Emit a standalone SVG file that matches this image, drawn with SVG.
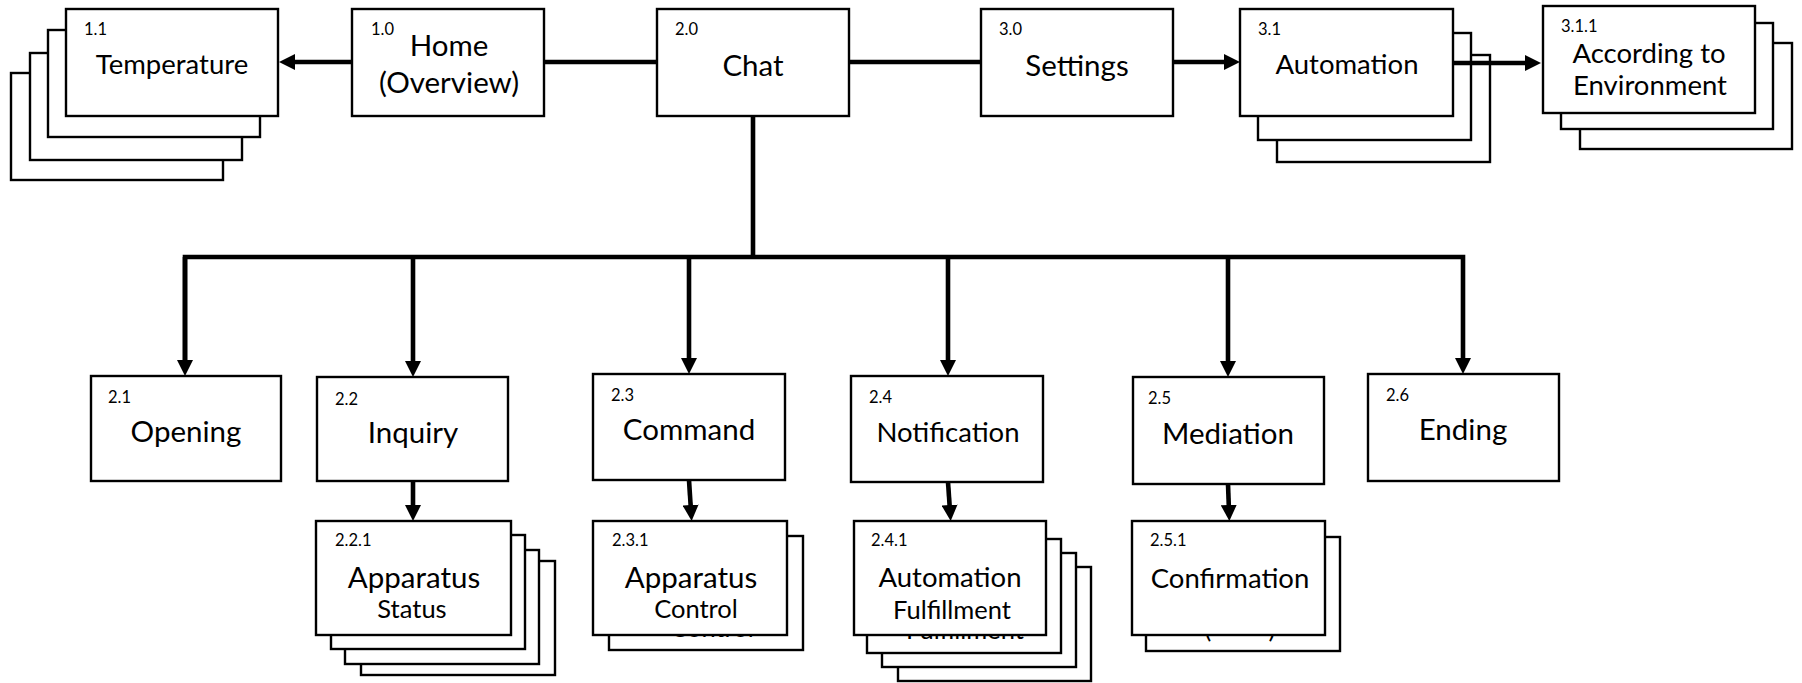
<svg xmlns="http://www.w3.org/2000/svg" width="1802" height="683" viewBox="0 0 1802 683">
<defs>
<style>
.b{fill:#fff;stroke:#000;stroke-width:2.4}
.c{fill:none;stroke:#000;stroke-width:4.6}
.t{font-family:Lato,"Liberation Sans",sans-serif;fill:#000;text-anchor:middle}
.L{font-size:29.5px}
.M{font-size:27.5px}
.S{font-size:25.5px}
.n{font-family:Lato,"Liberation Sans",sans-serif;font-size:16.5px;fill:#000}
</style>
<marker id="ah" markerUnits="userSpaceOnUse" markerWidth="16" markerHeight="16" viewBox="0 0 16 16" refX="6" refY="8" orient="auto">
<path d="M0,0 L16,8 L0,16 z" fill="#000"/>
</marker>
</defs>
<rect width="1802" height="683" fill="#fff"/>

<g id="n1-1">
<rect class="b" x="11" y="73" width="212" height="107"/>
<rect class="b" x="30" y="53" width="212" height="107"/>
<rect class="b" x="48" y="30" width="212" height="107"/>
<rect class="b" x="66" y="9" width="212" height="107"/>
<text class="n" x="84" y="35">1.1</text>
<text class="t M" x="172" y="74">Temperature</text>
</g>

<g id="n1-0">
<rect class="b" x="352" y="9" width="192" height="107"/>
<text class="n" x="371" y="35">1.0</text>
<text class="t L" x="449" y="56">Home</text>
<text class="t L" x="449" y="93">(Overview)</text>
</g>

<g id="n2-0">
<rect class="b" x="657" y="9" width="192" height="107"/>
<text class="n" x="675" y="35">2.0</text>
<text class="t L" x="753" y="76">Chat</text>
</g>

<g id="n3-0">
<rect class="b" x="981" y="9" width="192" height="107"/>
<text class="n" x="999" y="35">3.0</text>
<text class="t L" x="1077" y="76">Settings</text>
</g>

<g id="n3-1">
<rect class="b" x="1277" y="55" width="213" height="107"/>
<rect class="b" x="1258" y="33" width="213" height="107"/>
<rect class="b" x="1240" y="9" width="213" height="107"/>
<text class="n" x="1258" y="35">3.1</text>
<text class="t M" x="1347" y="74">Automation</text>
</g>

<g id="n3-1-1">
<rect class="b" x="1580" y="43" width="212" height="106"/>
<rect class="b" x="1561" y="23" width="212" height="106"/>
<rect class="b" x="1543" y="6" width="212" height="107"/>
<text class="n" x="1561" y="32">3.1.1</text>
<text class="t M" x="1649" y="63">According to</text>
<text class="t M" x="1650" y="95">Environment</text>
</g>

<g id="n2-1">
<rect class="b" x="91" y="376" width="190" height="105"/>
<text class="n" x="108" y="403">2.1</text>
<text class="t L" x="186" y="442">Opening</text>
</g>

<g id="n2-2">
<rect class="b" x="317" y="377" width="191" height="104"/>
<text class="n" x="335" y="405">2.2</text>
<text class="t L" x="413" y="443">Inquiry</text>
</g>

<g id="n2-3">
<rect class="b" x="593" y="374" width="192" height="106"/>
<text class="n" x="611" y="401">2.3</text>
<text class="t L" x="689" y="440">Command</text>
</g>

<g id="n2-4">
<rect class="b" x="851" y="376" width="192" height="106"/>
<text class="n" x="869" y="403">2.4</text>
<text class="t M" x="948" y="442">Notification</text>
</g>

<g id="n2-5">
<rect class="b" x="1133" y="377" width="191" height="107"/>
<text class="n" x="1148" y="404">2.5</text>
<text class="t L" x="1228" y="444">Mediation</text>
</g>

<g id="n2-6">
<rect class="b" x="1368" y="374" width="191" height="107"/>
<text class="n" x="1386" y="401">2.6</text>
<text class="t L" x="1463" y="440">Ending</text>
</g>

<g id="n2-2-1">
<rect class="b" x="361" y="561" width="194" height="114"/>
<rect class="b" x="345" y="550" width="194" height="114"/>
<rect class="b" x="331" y="535" width="194" height="114"/>
<rect class="b" x="316" y="521" width="195" height="114"/>
<text class="n" x="335" y="546">2.2.1</text>
<text class="t L" x="414" y="588">Apparatus</text>
<text class="t S" x="412" y="618">Status</text>
</g>

<g id="n2-3-1">
<rect class="b" x="609" y="536" width="194" height="114"/>
<text class="t S" x="712" y="637">Control</text>
<rect class="b" x="593" y="521" width="194" height="114"/>
<text class="n" x="612" y="546">2.3.1</text>
<text class="t L" x="691" y="588">Apparatus</text>
<text class="t S" x="696" y="618">Control</text>
</g>

<g id="n2-4-1">
<rect class="b" x="898" y="567" width="193" height="114"/>
<rect class="b" x="882" y="553" width="194" height="114"/>
<rect class="b" x="867" y="539" width="194" height="114"/>
<text class="t S" x="965" y="639">Fulfillment</text>
<rect class="b" x="854" y="521" width="192" height="114"/>
<text class="n" x="871" y="546">2.4.1</text>
<text class="t M" x="950" y="587">Automation</text>
<text class="t S" x="952" y="619">Fulfillment</text>
</g>

<g id="n2-5-1">
<rect class="b" x="1146" y="537" width="194" height="114"/>
<text class="t S" x="1208" y="638">(</text>
<text class="t S" x="1272" y="638">)</text>
<rect class="b" x="1132" y="521" width="193" height="114"/>
<text class="n" x="1150" y="546">2.5.1</text>
<text class="t M" x="1230" y="588">Confirmation</text>
</g>

<g id="connectors">
<line class="c" x1="352" y1="62" x2="289" y2="62" marker-end="url(#ah)"/>
<line class="c" x1="544" y1="62" x2="657" y2="62"/>
<line class="c" x1="849" y1="62" x2="981" y2="62"/>
<line class="c" x1="1173" y1="62" x2="1230" y2="62" marker-end="url(#ah)"/>
<line class="c" x1="1453" y1="63" x2="1531" y2="63" marker-end="url(#ah)"/>
<line class="c" x1="753" y1="116" x2="753" y2="257"/>
<polyline class="c" points="185,366 185,257 1463,257 1463,364" marker-end="url(#ah)"/>
<line class="c" x1="185" y1="257" x2="185" y2="366" marker-end="url(#ah)"/>
<line class="c" x1="413" y1="257" x2="413" y2="367" marker-end="url(#ah)"/>
<line class="c" x1="689" y1="257" x2="689" y2="364" marker-end="url(#ah)"/>
<line class="c" x1="948" y1="257" x2="948" y2="366" marker-end="url(#ah)"/>
<line class="c" x1="1228" y1="257" x2="1228" y2="367" marker-end="url(#ah)"/>
<line class="c" x1="413" y1="481" x2="413" y2="511" marker-end="url(#ah)"/>
<line class="c" x1="689" y1="480" x2="691" y2="511" marker-end="url(#ah)"/>
<line class="c" x1="948" y1="482" x2="950" y2="511" marker-end="url(#ah)"/>
<line class="c" x1="1228" y1="484" x2="1229" y2="511" marker-end="url(#ah)"/>
</g>
</svg>
